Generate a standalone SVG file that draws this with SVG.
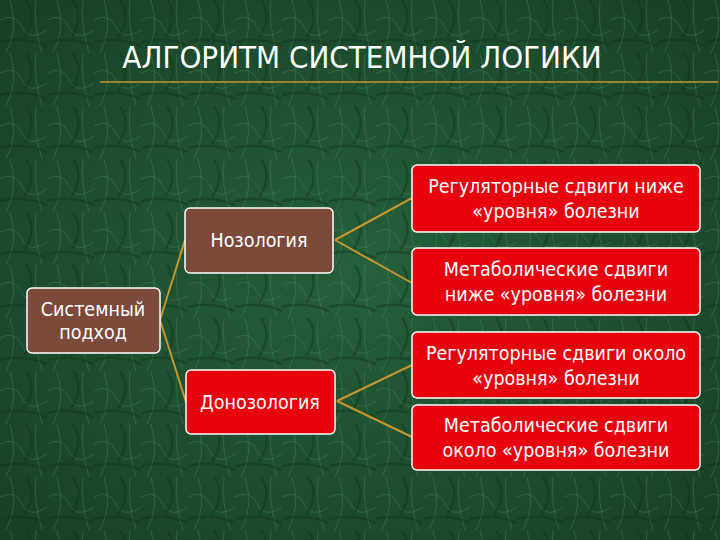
<svg xmlns="http://www.w3.org/2000/svg" width="720" height="540" viewBox="0 0 720 540">
<defs>
<radialGradient id="bg" cx="50%" cy="50%" r="70%"><stop offset="0" stop-color="#24603a"/><stop offset="1" stop-color="#174026"/></radialGradient>
<pattern id="marble" width="47" height="53" patternUnits="userSpaceOnUse">
<path d="M0 20 Q15 12 22 27 T47 30 M10 0 Q19 30 6 53 M36 0 Q33 25 42 53" fill="none" stroke="#4f8e64" stroke-width="1" opacity="0.35"/>
<path d="M0 42 Q24 36 47 46 M26 0 Q38 18 24 38" fill="none" stroke="#0f301a" stroke-width="2.5" opacity="0.4"/>
</pattern>
<style>
.brown{fill:#7b4a3b;stroke:#fff;stroke-width:1.5}
.red{fill:#e8000d;stroke:#fff;stroke-width:1.5}
.t{font-family:"DejaVu Sans Condensed","DejaVu Sans",sans-serif;font-size:19.5px;fill:#fff;text-anchor:middle}
.c{stroke:#c8962e;stroke-width:2;fill:none}
</style>
</defs>
<rect width="720" height="540" fill="url(#bg)"/>
<rect width="720" height="540" fill="url(#marble)"/>
<text x="362" y="68" font-family="DejaVu Sans Condensed,DejaVu Sans,sans-serif" font-size="31" fill="#fff" text-anchor="middle">АЛГОРИТМ СИСТЕМНОЙ ЛОГИКИ</text>
<line x1="100" y1="82" x2="718" y2="82" stroke="#c8962e" stroke-width="1.5"/>
<g id="connectors">
<path class="c" d="M160 320 L185 240 M160 320 L186 402 M335 240 L412 198 M335 240 L412 283 M337 401 L412 365 M337 401 L412 437"/>
</g>
<g id="sys"><rect class="brown" x="27" y="288" width="133" height="65" rx="5"/><text class="t" x="93" y="316">Системный</text><text class="t" x="93" y="339">подход</text></g>
<g id="noz"><rect class="brown" x="185" y="208" width="148" height="65" rx="5"/><text class="t" x="259" y="247">Нозология</text></g>
<g id="donoz"><rect class="red" x="186" y="370" width="149" height="64" rx="5"/><text class="t" x="260" y="409">Донозология</text></g>
<g id="r1"><rect class="red" x="412" y="165" width="288" height="67" rx="5"/><text class="t" x="556" y="193">Регуляторные сдвиги ниже</text><text class="t" x="556" y="218">«уровня» болезни</text></g>
<g id="r2"><rect class="red" x="412" y="248" width="288" height="67" rx="5"/><text class="t" x="556" y="276">Метаболические сдвиги</text><text class="t" x="556" y="301">ниже «уровня» болезни</text></g>
<g id="r3"><rect class="red" x="412" y="332" width="288" height="66" rx="5"/><text class="t" x="556" y="360">Регуляторные сдвиги около</text><text class="t" x="556" y="385">«уровня» болезни</text></g>
<g id="r4"><rect class="red" x="412" y="405" width="288" height="65" rx="5"/><text class="t" x="556" y="432">Метаболические сдвиги</text><text class="t" x="556" y="457">около «уровня» болезни</text></g>
</svg>
